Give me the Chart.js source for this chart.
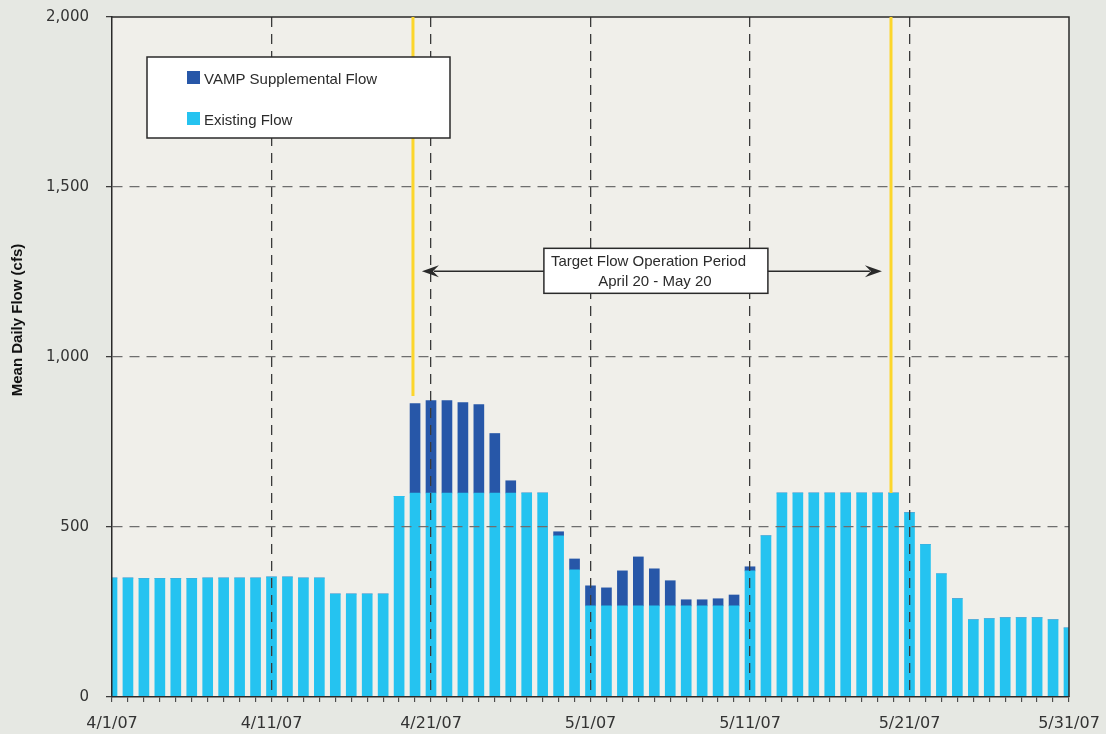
<!DOCTYPE html>
<html>
<head>
<meta charset="utf-8">
<script src="https://cdn.jsdelivr.net/npm/chart.js@4.4.1/dist/chart.umd.min.js"></script>
<style>
  html, body { margin: 0; padding: 0; background: #e6e8e3; }
  #wrap { width: 1106px; height: 734px; position: relative; }
</style>
</head>
<body>
<div id="wrap"><canvas id="flowChart"></canvas></div>
<script>
(function(){
    'use strict';

    const dates = [
        '4/1/07', '4/2/07', '4/3/07', '4/4/07', '4/5/07', '4/6/07', '4/7/07', '4/8/07', '4/9/07', '4/10/07',
        '4/11/07', '4/12/07', '4/13/07', '4/14/07', '4/15/07', '4/16/07', '4/17/07', '4/18/07', '4/19/07', '4/20/07',
        '4/21/07', '4/22/07', '4/23/07', '4/24/07', '4/25/07', '4/26/07', '4/27/07', '4/28/07', '4/29/07', '4/30/07',
        '5/1/07', '5/2/07', '5/3/07', '5/4/07', '5/5/07', '5/6/07', '5/7/07', '5/8/07', '5/9/07', '5/10/07',
        '5/11/07', '5/12/07', '5/13/07', '5/14/07', '5/15/07', '5/16/07', '5/17/07', '5/18/07', '5/19/07', '5/20/07',
        '5/21/07', '5/22/07', '5/23/07', '5/24/07', '5/25/07', '5/26/07', '5/27/07', '5/28/07', '5/29/07', '5/30/07',
        '5/31/07'
    ];

    // mean daily flow, cfs
    const existingFlow = [
        350, 350, 348, 348, 348, 348, 350, 350, 350, 350,
        353, 353, 350, 350, 303, 303, 303, 303, 590, 600,
        600, 600, 600, 600, 600, 600, 600, 600, 474, 374,
        268, 268, 268, 268, 268, 268, 268, 268, 268, 268,
        371, 474, 600, 600, 600, 600, 600, 600, 600, 600,
        542, 448, 362, 289, 227, 230, 233, 233, 233, 227,
        203
    ];
    const vampFlow = [
        0, 0, 0, 0, 0, 0, 0, 0, 0, 0,
        0, 0, 0, 0, 0, 0, 0, 0, 0, 263,
        272, 272, 266, 260, 175, 36, 0, 0, 12, 32,
        59, 53, 103, 144, 109, 74, 18, 18, 21, 32,
        12, 0, 0, 0, 0, 0, 0, 0, 0, 0,
        0, 0, 0, 0, 0, 0, 0, 0, 0, 0,
        0
    ];

    const xTickLabels = ['4/1/07', '4/11/07', '4/21/07', '5/1/07', '5/11/07', '5/21/07', '5/31/07'];
    const yTicks = [0, 500, 1000, 1500, 2000];
    const legendLabels = ['VAMP Supplemental Flow', 'Existing Flow'];
    const periodText = ['Target Flow Operation Period', 'April 20 - May 20'];
    const yTitle = 'Mean Daily Flow (cfs)';

    const darkBlue = '#2757a8';
    const lightBlue = '#25c3f0';
    const yellow = '#fcd62c';
    const ink = '#2a2a2a';
    const textFont = '"Liberation Sans", Arial, sans-serif';

    const canvas = document.querySelector('#flowChart');

    //plot area fill
    const plotBackground = {
        id: 'plotBackground',
        beforeDraw(chart){
            const {ctx, chartArea: a} = chart;
            ctx.save();
            ctx.fillStyle = '#f0efea';
            ctx.fillRect(a.left, a.top, a.right - a.left, a.bottom - a.top);
            ctx.restore();
        }
    };

    function arrowHead(ctx, tipX, tipY, dir){
        ctx.beginPath();
        ctx.moveTo(tipX, tipY);
        ctx.lineTo(tipX + dir * 17, tipY - 6);
        ctx.lineTo(tipX + dir * 11, tipY);
        ctx.lineTo(tipX + dir * 17, tipY + 6);
        ctx.closePath();
        ctx.fill();
    }

    //frame, yellow markers, legend, period note
    const overlay = {
        id: 'overlay',
        afterDraw(chart){
            const {ctx, chartArea: a} = chart;
            const x = chart.scales.x;
            const y = chart.scales.y;
            ctx.save();

            ctx.strokeStyle = ink;
            ctx.lineWidth = 1.5;
            ctx.beginPath();
            ctx.moveTo(a.left, a.top);
            ctx.lineTo(a.right, a.top);
            ctx.lineTo(a.right, a.bottom);
            ctx.stroke();

            // period start / end markers
            ctx.strokeStyle = yellow;
            ctx.lineWidth = 3;
            [[18.87, 885], [48.84, 600]].forEach(function(m){
                const px = x.getPixelForValue(m[0]);
                ctx.beginPath();
                ctx.moveTo(px, y.getPixelForValue(2000));
                ctx.lineTo(px, y.getPixelForValue(m[1]));
                ctx.stroke();
            });

            // legend
            const lx = a.left + 35, ly = a.top + 40;
            ctx.fillStyle = '#ffffff';
            ctx.fillRect(lx, ly, 303, 81);
            ctx.strokeStyle = ink;
            ctx.lineWidth = 1.5;
            ctx.strokeRect(lx, ly, 303, 81);
            ctx.font = '15px ' + textFont;
            ctx.textAlign = 'left';
            ctx.textBaseline = 'alphabetic';
            [darkBlue, lightBlue].forEach(function(c, i){
                const sy = ly + 14 + i * 41;
                ctx.fillStyle = c;
                ctx.fillRect(lx + 40, sy, 13, 13);
                ctx.fillStyle = '#2b2b2b';
                ctx.fillText(legendLabels[i], lx + 57, sy + 13);
            });

            // period arrow
            const ay = y.getPixelForValue(1252);
            const x1 = x.getPixelForValue(19.43);
            const x2 = x.getPixelForValue(48.27);
            ctx.strokeStyle = ink;
            ctx.fillStyle = ink;
            ctx.lineWidth = 1.5;
            ctx.beginPath();
            ctx.moveTo(x1 + 12, ay);
            ctx.lineTo(x2 - 12, ay);
            ctx.stroke();
            arrowHead(ctx, x1, ay, 1);
            arrowHead(ctx, x2, ay, -1);

            const bx = x.getPixelForValue(34.1) - 112, by = ay - 23;
            ctx.fillStyle = '#ffffff';
            ctx.fillRect(bx, by, 224, 45);
            ctx.strokeRect(bx, by, 224, 45);
            ctx.fillStyle = '#2b2b2b';
            ctx.font = '15px ' + textFont;
            ctx.textAlign = 'left';
            ctx.fillText(periodText[0], bx + 7, by + 18);
            ctx.textAlign = 'center';
            ctx.fillText(periodText[1], bx + 111, by + 38);

            // y axis title
            ctx.translate(18, a.top + 303);
            ctx.rotate(-Math.PI / 2);
            ctx.font = 'bold 15px ' + textFont;
            ctx.textAlign = 'center';
            ctx.textBaseline = 'middle';
            ctx.fillStyle = '#111111';
            ctx.fillText(yTitle, 0, 0);

            ctx.restore();
        }
    };

    Chart.defaults.font.family = '"DejaVu Sans", sans-serif';
    Chart.defaults.color = '#333333';

    new Chart(canvas, {
        type: 'bar',
        data: {
            labels: dates,
            datasets: [
                {
                    label: 'Existing Flow',
                    data: existingFlow,
                    backgroundColor: lightBlue,
                    barThickness: 10,
                    clip: 0
                },
                {
                    label: 'VAMP Supplemental Flow',
                    data: vampFlow,
                    backgroundColor: darkBlue,
                    barThickness: 10,
                    clip: 0
                }
            ]
        },
        options: {
            responsive: true,
            maintainAspectRatio: false,
            animation: false,
            layout: {
                padding: {top: 17, right: 37, left: 0, bottom: 0}
            },
            plugins: {
                legend: {display: false},
                tooltip: {enabled: false}
            },
            scales: {
                x: {
                    stacked: true,
                    offset: false,
                    afterFit: function(scale){
                        scale.height = 37;
                        scale.paddingLeft = 0;
                        scale.paddingRight = 0;
                    },
                    grid: {
                        offset: false,
                        z: 1,
                        lineWidth: 1.3,
                        color: function(c){
                            return (c.index % 10 === 0 && c.index > 0 && c.index < 60) ? '#3a3a3a' : 'transparent';
                        },
                        tickColor: '#333333',
                        tickLength: 5,
                        tickWidth: 1
                    },
                    border: {display: true, color: ink, width: 1.5, dash: [10, 7], z: 1},
                    ticks: {
                        autoSkip: false,
                        maxRotation: 0,
                        padding: 12,
                        font: {size: 16},
                        callback: function(value){
                            const label = this.getLabelForValue(value);
                            return xTickLabels.indexOf(label) >= 0 ? label : '';
                        }
                    }
                },
                y: {
                    stacked: true,
                    min: 0,
                    max: 2000,
                    afterFit: function(scale){
                        scale.width = 112;
                        scale.paddingTop = 0;
                        scale.paddingBottom = 0;
                    },
                    afterBuildTicks: function(scale){
                        scale.ticks = yTicks.map(function(v){ return {value: v}; });
                    },
                    grid: {
                        z: 1,
                        lineWidth: 1.3,
                        color: function(c){
                            const v = c.tick ? c.tick.value : 0;
                            return (v === 0 || v === 2000) ? 'transparent' : '#6e6e6e';
                        },
                        tickColor: '#333333',
                        tickLength: 6,
                        tickWidth: 1.2
                    },
                    border: {display: true, color: ink, width: 1.5, dash: [10, 7], z: 1},
                    ticks: {
                        padding: 17,
                        font: {size: 15},
                        callback: function(v){ return v.toLocaleString('en-US'); }
                    }
                }
            }
        },
        plugins: [plotBackground, overlay]
    });
})();
</script>
</body>
</html>
